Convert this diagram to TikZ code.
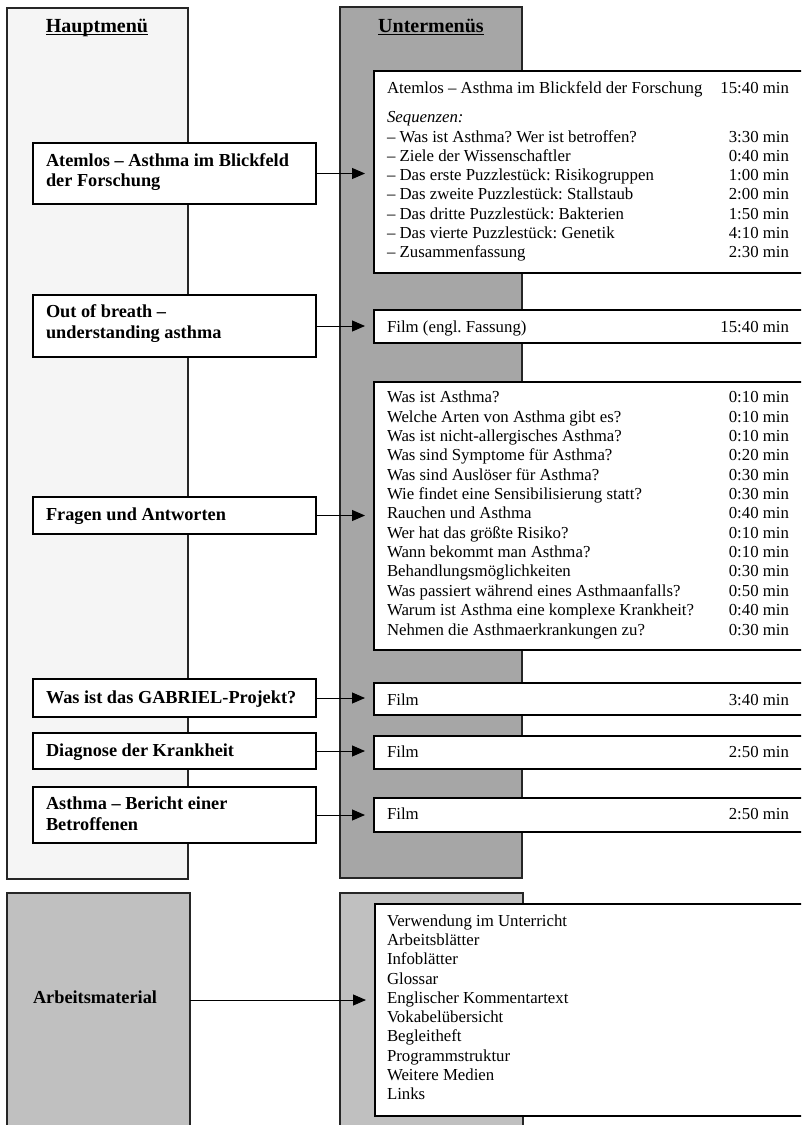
\documentclass[tikz,border=0pt]{standalone}
\usepackage{fontspec}
\setmainfont{Liberation Serif}
\usetikzlibrary{arrows.meta}
\frenchspacing
\definecolor{leftgray}{HTML}{F5F5F5}
\definecolor{midgray}{HTML}{A6A6A6}
\definecolor{lowgray}{HTML}{C0C0C0}
\tikzset{
  panel/.style={draw=black!85, line width=1.1pt, inner sep=0pt, outer sep=0pt, anchor=north west},
  box/.style={draw=black, line width=1.1pt, fill=white, inner sep=0pt, outer sep=0pt, anchor=north west},
  txt/.style={font=\fontsize{16.8}{19.3}\selectfont\frenchspacing, inner sep=0pt, outer sep=0pt},
  btxt/.style={font=\fontsize{18.3}{19.5}\selectfont\bfseries\frenchspacing, inner sep=0pt, outer sep=0pt, anchor=base west},
  head/.style={font=\fontsize{20}{22}\selectfont\bfseries, inner sep=0pt, outer sep=0pt, anchor=base},
  arr/.style={-{Triangle[length=13pt,width=11pt]}, line width=1pt, shorten >=9pt}
}
\begin{document}
\begin{tikzpicture}[x=1pt,y=-1pt]
\useasboundingbox (0,0) rectangle (801,1125);
\clip (0,0) rectangle (801,1125);
\fill[white] (0,0) rectangle (801,1125);

% panels
\node[panel, fill=leftgray, minimum width=181pt, minimum height=871pt] (hm) at (7,8) {};
\node[panel, fill=midgray, minimum width=182pt, minimum height=871pt] (um) at (340,7) {};
\node[panel, fill=lowgray, minimum width=183pt, minimum height=260pt] (am) at (7,893) {};
\node[panel, fill=lowgray, minimum width=183pt, minimum height=260pt] (amu) at (340,893) {};

% headings
\node[head] (hmt) at (97,32) {Hauptmenü};
\draw[line width=1.4pt] ([yshift=-2.5pt]hmt.base west) -- ([yshift=-2.5pt]hmt.base east);
\node[head] (umt) at (431,32) {Untermenüs};
\draw[line width=1.4pt] ([yshift=-2.5pt]umt.base west) -- ([yshift=-2.5pt]umt.base east);

% left boxes
\node[box, minimum width=283pt, minimum height=61pt] (l1) at (33,143) {};
\node[box, minimum width=283pt, minimum height=62pt] (l2) at (33,295) {};
\node[box, minimum width=283pt, minimum height=37pt] (l3) at (33,497) {};
\node[box, minimum width=283pt, minimum height=38pt] (l4) at (33,679) {};
\node[box, minimum width=283pt, minimum height=36pt] (l5) at (33,733) {};
\node[box, minimum width=283pt, minimum height=56pt] (l6) at (33,787) {};

\node[btxt] (l1a) at (46,166.7) {Atemlos – Asthma im Blickfeld};
\node[btxt] (l1b) at (46,186.2) {der Forschung};
\node[btxt] (l2a) at (46,317.7) {Out of breath –};
\node[btxt] (l2b) at (46,338.3) {understanding asthma};
\node[btxt] (l3a) at (46,520) {Fragen und Antworten};
\node[btxt] (l4a) at (46,703) {Was ist das GABRIEL-Projekt?};
\node[btxt] (l5a) at (46,756) {Diagnose der Krankheit};
\node[btxt] (l6a) at (46,809) {Asthma – Bericht einer};
\node[btxt] (l6b) at (46,830) {Betroffenen};
\node[btxt] (amt) at (33,1003) {Arbeitsmaterial};

% right boxes
\node[box, minimum width=441pt, minimum height=202pt] (r1) at (374,71) {};
\node[box, minimum width=441pt, minimum height=33pt] (r2) at (374,310) {};
\node[box, minimum width=441pt, minimum height=268pt] (r3) at (374,382) {};
\node[box, minimum width=441pt, minimum height=32pt] (r4) at (374,683) {};
\node[box, minimum width=441pt, minimum height=33pt] (r5) at (374,736) {};
\node[box, minimum width=441pt, minimum height=34pt] (r6) at (374,798) {};
\node[box, minimum width=441pt, minimum height=212pt] (r7) at (375,904) {};

% box 1 texts
\node[txt, anchor=base west] (r1h) at (387,93) {Atemlos – Asthma im Blickfeld der Forschung};
\node[txt, anchor=base east] (r1m) at (789,93) {15:40 min};
\node[txt, anchor=base west] (r1s) at (387,122) {\itshape Sequenzen:};
\foreach \a/\b [count=\i from 0] in {
  {– Was ist Asthma? Wer ist betroffen?}/{3:30 min},
  {– Ziele der Wissenschaftler}/{0:40 min},
  {– Das erste Puzzlestück: Risikogruppen}/{1:00 min},
  {– Das zweite Puzzlestück: Stallstaub}/{2:00 min},
  {– Das dritte Puzzlestück: Bakterien}/{1:50 min},
  {– Das vierte Puzzlestück: Genetik}/{4:10 min},
  {– Zusammenfassung}/{2:30 min}} {
  \node[txt, anchor=base west] (sa\i) at (387,{142+19.3*\i}) {\a};
  \node[txt, anchor=base east] (sb\i) at (789,{142+19.3*\i}) {\b};
}

% box 2
\node[txt, anchor=base west] (r2a) at (387,332) {Film (engl. Fassung)};
\node[txt, anchor=base east] (r2b) at (789,332) {15:40 min};

% box 3
\foreach \a/\b [count=\i from 0] in {
  {Was ist Asthma?}/{0:10 min},
  {Welche Arten von Asthma gibt es?}/{0:10 min},
  {Was ist nicht-allergisches Asthma?}/{0:10 min},
  {Was sind Symptome für Asthma?}/{0:20 min},
  {Was sind Auslöser für Asthma?}/{0:30 min},
  {Wie findet eine Sensibilisierung statt?}/{0:30 min},
  {Rauchen und Asthma}/{0:40 min},
  {Wer hat das größte Risiko?}/{0:10 min},
  {Wann bekommt man Asthma?}/{0:10 min},
  {Behandlungsmöglichkeiten}/{0:30 min},
  {Was passiert während eines Asthmaanfalls?}/{0:50 min},
  {Warum ist Asthma eine komplexe Krankheit?}/{0:40 min},
  {Nehmen die Asthmaerkrankungen zu?}/{0:30 min}} {
  \node[txt, anchor=base west] (fa\i) at (387,{402.7+19.36*\i}) {\a};
  \node[txt, anchor=base east] (fb\i) at (789,{402.7+19.36*\i}) {\b};
}

% boxes 4-6
\node[txt, anchor=base west] (r4a) at (387,705) {Film};
\node[txt, anchor=base east] (r4b) at (789,705) {3:40 min};
\node[txt, anchor=base west] (r5a) at (387,757) {Film};
\node[txt, anchor=base east] (r5b) at (789,757) {2:50 min};
\node[txt, anchor=base west] (r6a) at (387,819) {Film};
\node[txt, anchor=base east] (r6b) at (789,819) {2:50 min};

% box 7
\foreach \a [count=\i from 0] in {Verwendung im Unterricht, Arbeitsblätter, Infoblätter, Glossar,
  Englischer Kommentartext, Vokabelübersicht, Begleitheft, Programmstruktur, Weitere Medien, Links} {
  \node[txt, anchor=base west] (ma\i) at (387,{926+19.33*\i}) {\a};
}

% arrows
\draw[arr] (l1.east) -- (l1.east -| r1.west);
\draw[arr] (l2.east) -- (l2.east -| r2.west);
\draw[arr] (l3.east) -- (l3.east -| r3.west);
\draw[arr] (l4.east) -- (l4.east -| r4.west);
\draw[arr] (l5.east) -- (l5.east -| r5.west);
\draw[arr] (l6.east) -- (l6.east -| r6.west);
\coordinate (amy) at (0,1000);
\draw[arr] (am.east |- amy) -- (r7.west |- amy);
\end{tikzpicture}
\end{document}
